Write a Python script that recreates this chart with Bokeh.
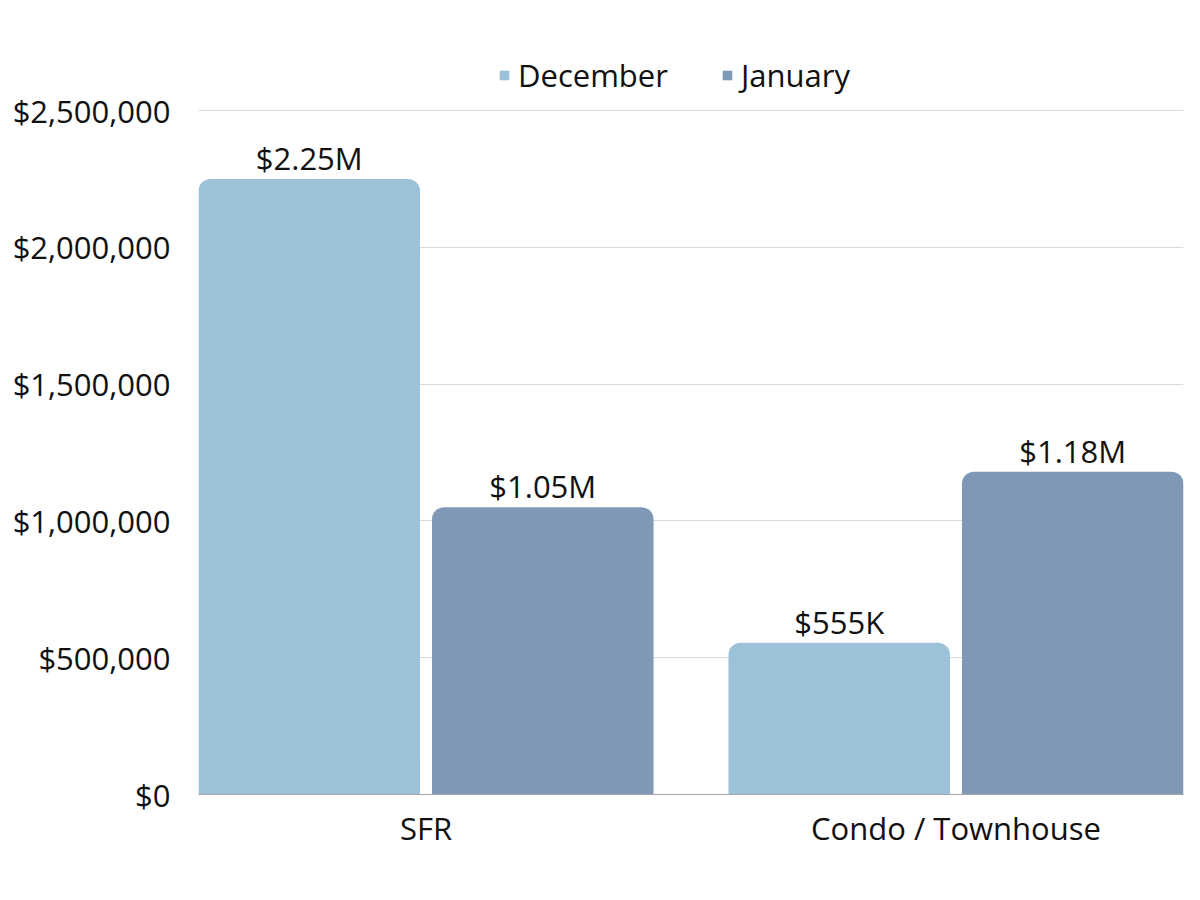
from bokeh.plotting import figure
from bokeh.models import (FactorRange, ColumnDataSource, NumeralTickFormatter,
                          Legend, LegendItem, Range1d, FixedTicker, LabelSet)
from bokeh.core.properties import value
from bokeh.transform import dodge
from bokeh.embed import file_html
from bokeh.resources import INLINE

# ---- data ----
categories = ["SFR", "Condo / Townhouse"]
months = ["December", "January"]
december = [2250000, 555000]
january = [1050000, 1180000]
december_labels = ["$2.25M", "$555K"]
january_labels = ["$1.05M", "$1.18M"]
y_ticks = [0, 500000, 1000000, 1500000, 2000000, 2500000]

colors = ["#9BC2D9", "#7F98B5"]
FONT = "Open Sans"
FS = "31px"
TEXT_COLOR = "#111111"

d = 0.2203      # dodge offset
w = 0.418       # bar width

# frame extends above the top tick so the legend can sit inside it
y_end = y_ticks[-1] * 754 / 684

src_dec = ColumnDataSource(dict(cat=categories, val=december, lab=december_labels))
src_jan = ColumnDataSource(dict(cat=categories, val=january, lab=january_labels))

x_range = FactorRange(*categories, range_padding=-0.0707, range_padding_units="absolute")

p = figure(x_range=x_range, y_range=Range1d(0, y_end),
           width=1190, height=880, output_backend="svg", toolbar_location=None,
           min_border_left=198, min_border_right=7, min_border_top=40, min_border_bottom=86)

r_dec = p.vbar(x=dodge("cat", -d, range=p.x_range), top="val", width=w, source=src_dec,
               fill_color=colors[0], line_color=None, border_radius=(12, 12, 0, 0))
r_jan = p.vbar(x=dodge("cat", d, range=p.x_range), top="val", width=w, source=src_jan,
               fill_color=colors[1], line_color=None, border_radius=(12, 12, 0, 0))

for src, off in ((src_dec, -d), (src_jan, d)):
    p.add_layout(LabelSet(x=dodge("cat", off, range=p.x_range), y="val", text="lab", source=src,
                          text_align="center", text_baseline="alphabetic", y_offset=9,
                          text_font=value(FONT), text_font_size=value(FS),
                          text_color=TEXT_COLOR))

# axes
p.yaxis.ticker = FixedTicker(ticks=y_ticks)
p.yaxis.formatter = NumeralTickFormatter(format="$0,0")
p.yaxis.axis_line_color = None
p.yaxis.major_tick_line_color = None
p.yaxis.minor_tick_line_color = None
p.yaxis.major_label_standoff = 22
p.yaxis.major_label_text_font = FONT
p.yaxis.major_label_text_font_size = FS
p.yaxis.major_label_text_color = TEXT_COLOR

p.xaxis.axis_line_color = "#A6A6A6"
p.xaxis.major_tick_line_color = None
p.xaxis.minor_tick_line_color = None
p.xaxis.major_label_standoff = 6
p.xaxis.major_label_text_font = FONT
p.xaxis.major_label_text_font_size = FS
p.xaxis.major_label_text_color = TEXT_COLOR

p.xgrid.grid_line_color = None
p.ygrid.grid_line_color = "#D9D9D9"
p.ygrid.grid_line_width = 1
p.outline_line_color = None

legend = Legend(items=[LegendItem(label=months[0], renderers=[r_dec]),
                       LegendItem(label=months[1], renderers=[r_jan])],
                orientation="horizontal", location=(300, 698),
                glyph_width=12, glyph_height=12, label_standoff=8, spacing=53,
                padding=0, margin=0, border_line_color=None, background_fill_alpha=0,
                label_text_font=FONT, label_text_font_size=FS,
                label_text_color=TEXT_COLOR)
p.add_layout(legend, "center")

open("out.html", "w").write(file_html(p, INLINE))
